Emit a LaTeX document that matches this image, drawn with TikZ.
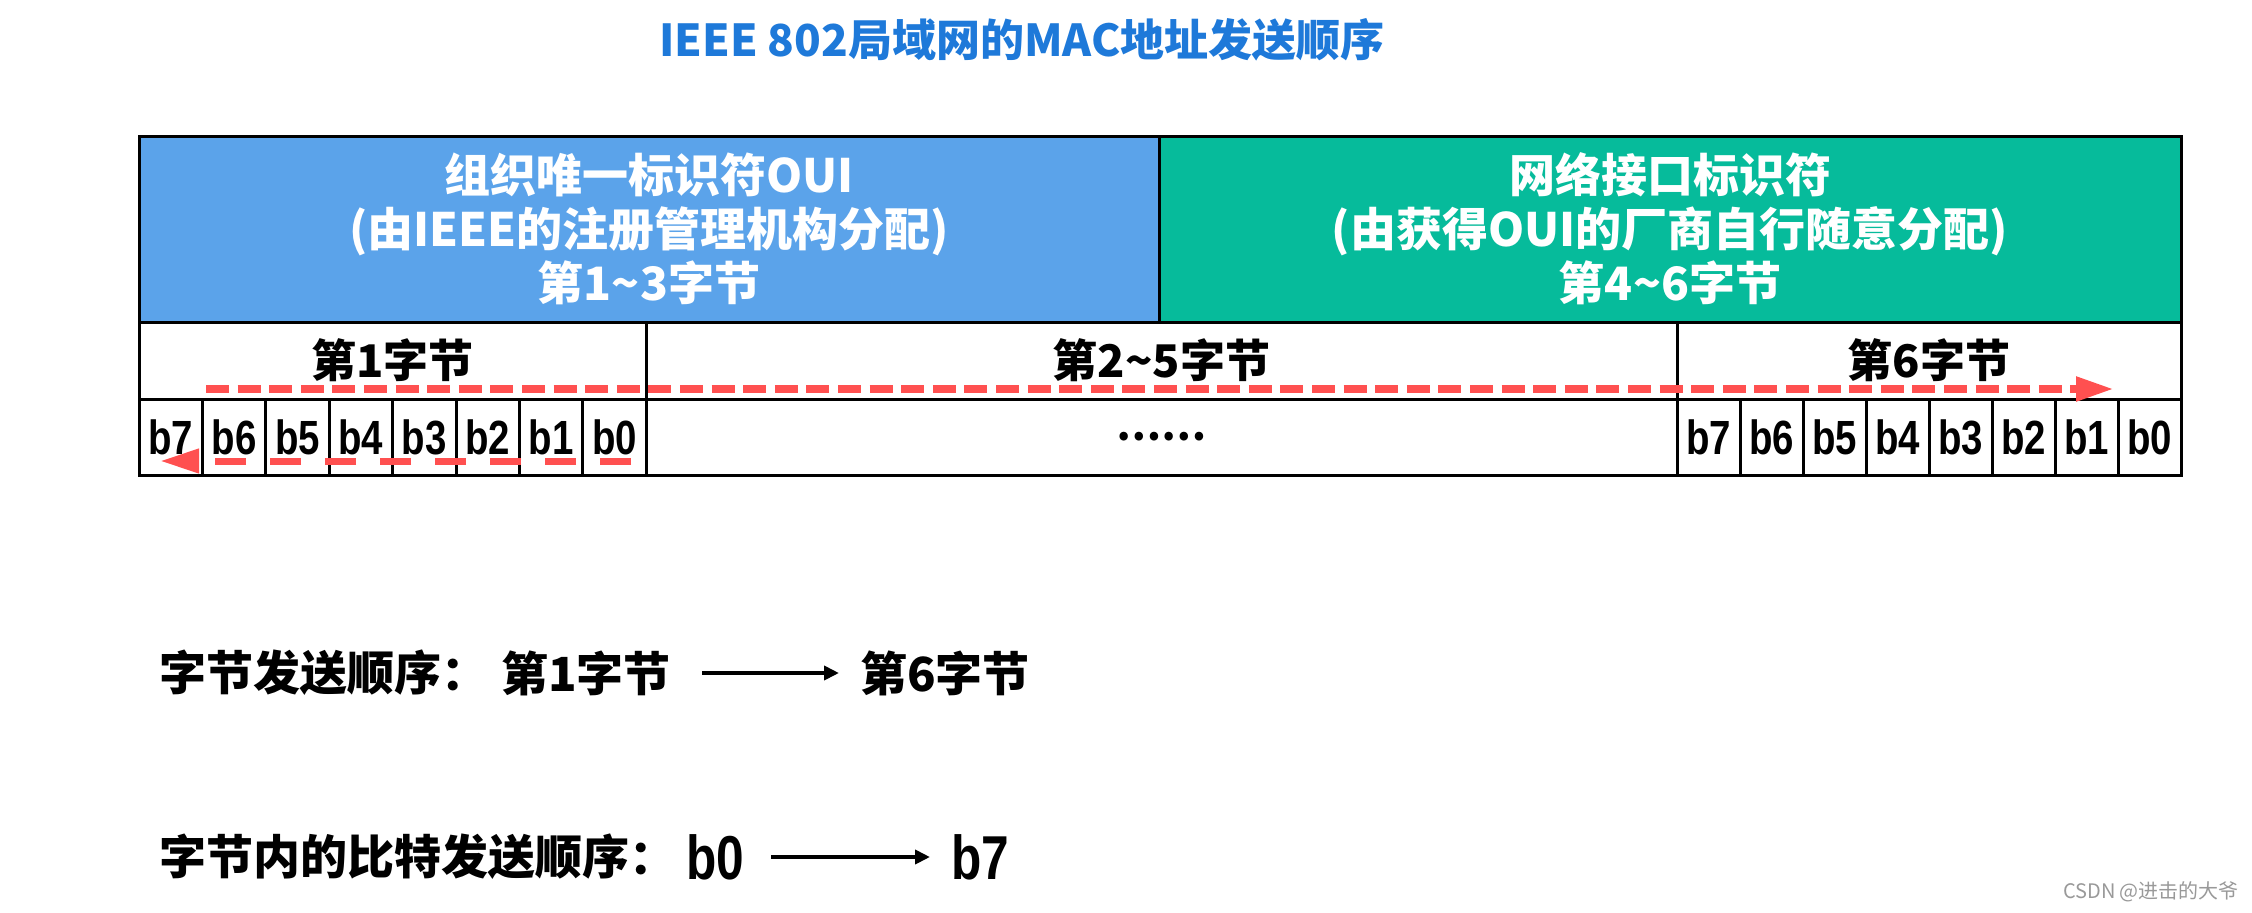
\documentclass[tikz,border=0pt]{standalone}
\usepackage{fontspec}
\setmainfont{Liberation Sans}
\newfontfamily\cjk{Noto Sans CJK SC}
\newfontfamily\narrow{Liberation Sans}[FakeStretch=0.8]
\usepackage{tikz}
\usetikzlibrary{arrows.meta, positioning}

\definecolor{titleblue}{RGB}{30,121,217}
\definecolor{ouiblue}{RGB}{91,163,234}
\definecolor{nicgreen}{RGB}{6,187,155}
\definecolor{sendred}{RGB}{255,80,80}

\begin{document}
\begin{tikzpicture}[
  x=1pt, y=-1pt,
  heading/.style={text=titleblue, font=\cjk\bfseries\fontsize{44}{48}\selectfont, inner sep=0pt},
  field/.style={draw=black, line width=3pt, fill=#1, minimum height=186pt,
    text=white, align=center, inner sep=0pt,
    font=\cjk\bfseries\fontsize{46}{54}\selectfont},
  bytecell/.style={draw=black, line width=3pt, minimum height=77pt, inner sep=0pt,
    font=\cjk\bfseries\fontsize{45}{50}\selectfont},
  bitcell/.style={draw=black, line width=3pt, minimum width=63.4pt, minimum height=76pt,
    inner sep=0pt, font=\narrow\bfseries\fontsize{48}{50}\selectfont},
  sendline/.style={sendred, line width=8pt, dash pattern=on 23pt off 8.6pt,
    -{Triangle[length=38pt, width=23pt]}},
  bitline/.style={sendred, line width=7pt, dash pattern=on 31pt off 24pt,
    -{Triangle[length=39pt, width=23pt]}},
  caption/.style={anchor=west, inner sep=0pt, font=\cjk\bfseries\fontsize{47}{50}\selectfont},
  bitname/.style={anchor=west, inner sep=0pt, font=\narrow\bfseries\fontsize{62}{64}\selectfont},
  order/.style={line width=4pt, -{Triangle[length=15pt, width=14pt]}}
]
\useasboundingbox (0,0) rectangle (2252,913);

% Title
\node[heading] (title) at (1022,40) {IEEE 802局域网的MAC地址发送顺序};

% Address fields
\node[field=ouiblue, minimum width=1020pt] (oui) at (649,229)
  {组织唯一标识符OUI\\(由IEEE的注册管理机构分配)\\第1\textasciitilde 3字节};
\node[field=nicgreen, minimum width=1022pt] (nic) at (1670,229)
  {网络接口标识符\\(由获得OUI的厂商自行随意分配)\\第4\textasciitilde 6字节};

% Bytes
\node[bytecell, minimum width=507pt] (byte1) at (392.5,360.5) {第1字节};
\node[bytecell, minimum width=1031pt] (byte25) at (1161.5,360.5) {第2\textasciitilde 5字节};
\node[bytecell, minimum width=504pt] (byte6) at (1929,360.5) {第6字节};

% Bits
\foreach \i [evaluate=\i as \bit using int(7-\i)] in {0,...,7} {
  \node[bitcell] (lb\bit) at (139+63.4*\i+31.7, 437) {b\bit};
  \node[bitcell, minimum width=63pt] (rb\bit) at (1677+63*\i+31.5, 437) {b\bit};
}
\node[bitcell, minimum width=1031pt, font=\cjk\bfseries\fontsize{40}{44}\selectfont] (dots) at (1161.5,437) {……};

% Sending order
\coordinate (sendstart) at (206,389);
\coordinate (sendend) at (2114,389);
\draw[sendline] (sendstart) -- (sendend);
\coordinate (bitstart) at (631,461);
\coordinate (bitend) at (160,461);
\draw[bitline] (bitstart) -- (bitend);

% Captions
\node[caption] (byteorder) at (159,673) {字节发送顺序：};
\node[caption] (firstbyte) at (501,673) {第1字节};
\node[caption] (lastbyte) at (860,673) {第6字节};
\draw[order, shorten <=31pt, shorten >=21pt] (firstbyte.east) -- (lastbyte.west);

\node[caption] (bitorder) at (159,857) {字节内的比特发送顺序：};
\node[bitname] (firstbit) at (686,857) {b0};
\node[bitname] (lastbit) at (951,857) {b7};
\draw[order, shorten <=27pt, shorten >=21pt] (firstbit.east) -- (lastbit.west);

\node[text=gray!80, font=\cjk\fontsize{20}{24}\selectfont, inner sep=0pt] (mark) at (2151,892) {CSDN @进击的大爷};
\end{tikzpicture}
\end{document}
